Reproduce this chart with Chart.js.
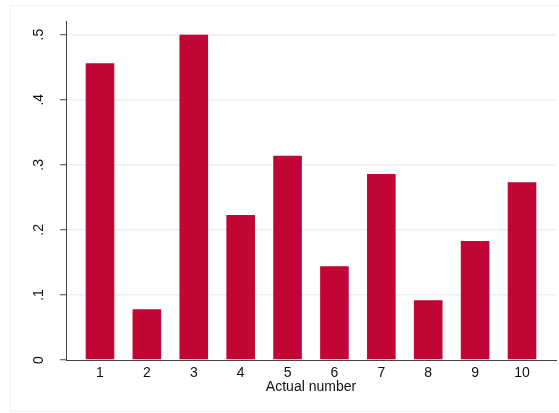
<!DOCTYPE html>
<html>
<head>
<meta charset="utf-8">
<script src="https://cdn.jsdelivr.net/npm/chart.js@4.4.0/dist/chart.umd.min.js"></script>
<style>
  html, body { margin: 0; padding: 0; background: #fff; }
  #wrap { width: 559px; height: 413px; }
</style>
</head>
<body>
<div id="wrap"><canvas id="grafica" width="559" height="413"></canvas></div>
<script>
// datos
const numeros = [1, 2, 3, 4, 5, 6, 7, 8, 9, 10];
const valores = [0.456, 0.078, 0.500, 0.223, 0.314, 0.144, 0.286, 0.092, 0.183, 0.273];
const yTicks = [0, 0.1, 0.2, 0.3, 0.4, 0.5];
const yLabels = ["0", ".1", ".2", ".3", ".4", ".5"];
const xTitulo = "Actual number";

const fuente = "'Liberation Sans', Arial, sans-serif";

// marco tenue y etiquetas rotadas del eje y
const extras = {
    id: 'extras',
    beforeDraw(chart){
        let ctx = chart.ctx;
        ctx.save();
        ctx.strokeStyle = '#eef2f3';
        ctx.lineWidth = 1;
        ctx.strokeRect(10.5, 5.5, 560, 406);
        ctx.restore();
    },
    afterDraw(chart){
        let ctx = chart.ctx;
        let y = chart.scales.y;
        ctx.save();
        ctx.fillStyle = '#111';
        ctx.font = "14px " + fuente;
        ctx.textAlign = 'center';
        ctx.textBaseline = 'middle';
        yTicks.forEach((v, i) => {
            let py = y.getPixelForValue(v);
            ctx.save();
            ctx.translate(39, py);
            ctx.rotate(-Math.PI / 2);
            ctx.fillText(yLabels[i], 0, 0);
            ctx.restore();
        });
        ctx.restore();
    }
};

new Chart(document.getElementById("grafica"), {
    type: 'bar',
    data: {
        datasets: [{
            data: numeros.map((n, i) => ({x: n, y: valores[i]})),
            backgroundColor: '#c10534',
            borderWidth: 0,
            barPercentage: 0.61,
            categoryPercentage: 1
        }]
    },
    options: {
        responsive: false,
        animation: false,
        layout: { padding: { left: 60, right: 3, top: 21, bottom: 17 } },
        plugins: { legend: { display: false }, tooltip: { enabled: false } },
        scales: {
            x: {
                type: 'linear',
                offset: false,
                min: 0.275,
                max: 10.725,
                afterBuildTicks: s => { s.ticks = numeros.map(v => ({value: v})); },
                afterFit: s => { s.height = 36; },
                grid: { display: false, drawTicks: false },
                border: { display: true, color: '#444', width: 1 },
                ticks: {
                    color: '#111',
                    font: { family: fuente, size: 14 },
                    padding: 5,
                    maxRotation: 0,
                    autoSkip: false,
                    callback: v => String(v)
                },
                title: {
                    display: true,
                    text: xTitulo,
                    color: '#111',
                    font: { family: fuente, size: 14 },
                    padding: { top: 0, bottom: 0 }
                }
            },
            y: {
                min: 0,
                max: 0.521,
                afterBuildTicks: s => { s.ticks = yTicks.map(v => ({value: v})); },
                afterFit: s => { s.width = 6; },
                grid: {
                    color: c => c.tick && c.tick.value === 0 ? 'rgba(0,0,0,0)' : '#eaf1f2',
                    lineWidth: 1.5,
                    drawTicks: true,
                    tickLength: 6,
                    tickColor: '#444',
                    tickWidth: 1
                },
                border: { display: true, color: '#444', width: 1 },
                ticks: { display: false }
            }
        }
    },
    plugins: [extras]
});
</script>
</body>
</html>
